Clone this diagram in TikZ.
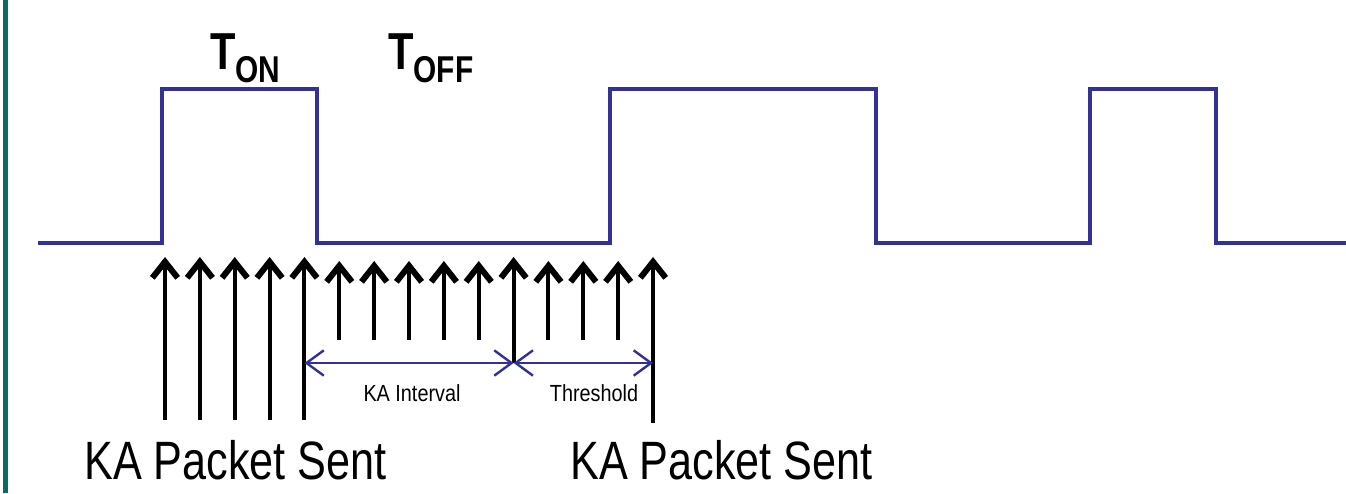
\documentclass[tikz,border=0pt]{standalone}
\usepackage{fontspec}
\usetikzlibrary{arrows.meta}
\newfontfamily\narrowsans[FakeStretch=0.85]{Liberation Sans}
\newfontfamily\tightsans[FakeStretch=0.8]{Liberation Sans}
\definecolor{waveblue}{RGB}{50,50,150}
\definecolor{sideteal}{RGB}{10,105,105}
\tikzset{
  kaarrow/.style={line width=3pt, -{Straight Barb[length=12pt,width=19pt,line width=4.5pt]}},
  dimline/.style={waveblue, line width=1.4pt, {Straight Barb[length=13pt,width=19pt,line width=1.8pt]}-{Straight Barb[length=13pt,width=19pt,line width=1.8pt]}},
  wave/.style={waveblue, line width=3pt},
  bigtext/.style={font=\tightsans\fontsize{40.5}{41}\selectfont, inner sep=0pt, anchor=base west},
  smalltext/.style={font=\narrowsans\fontsize{17.5}{18}\selectfont, inner sep=0pt, anchor=base},
  ttext/.style={font=\tightsans\bfseries\fontsize{39}{40}\selectfont, inner sep=0pt, anchor=base west}
}
\begin{document}
\begin{tikzpicture}[x=0.75pt, y=-0.75pt]
\useasboundingbox (0,0) rectangle (1346,493);
\fill[sideteal] (2.5,0) rectangle (7.5,493);
% on/off signal
\draw[wave] (38,243) -- (162,243) -- (162,89) -- (317,89) -- (317,243) -- (610,243) -- (610,89)
  -- (876,89) -- (876,243) -- (1090,243) -- (1090,89) -- (1216,89) -- (1216,243) -- (1346,243);
\node[ttext] (ton) at (210,69) {T\raisebox{-9.75pt}{\fontsize{28}{28}\selectfont ON}};
\node[ttext] (toff) at (388,69) {T\raisebox{-9.75pt}{\fontsize{28}{28}\selectfont OFF}};
% keep-alive packets
\foreach \i/\b/\t in {0/420/257, 1/420/257, 2/420/257, 3/420/257, 4/420/257,
  5/340/261, 6/340/261, 7/340/261, 8/340/261, 9/340/261, 10/363/257,
  11/340/261, 12/340/261, 13/340/261, 14/423/257}{
  \coordinate (b\i) at ({165+34.86*\i},\b);
  \coordinate (t\i) at ({165+34.86*\i},\t);
  \draw[kaarrow] (b\i) -- (t\i);
}
\coordinate (d4) at ({165+34.86*4},363);
\coordinate (d10) at ({165+34.86*10},363);
\coordinate (d14) at ({165+34.86*14},363);
\draw[dimline] (d4) -- (d10);
\draw[dimline] (d10) -- (d14);
\node[smalltext] (interval) at (412,401) {KA Interval};
\node[smalltext] (threshold) at (594,401) {Threshold};
\node[bigtext] (sentleft) at (84,479) {KA Packet Sent};
\node[bigtext] (sentright) at (570,479) {KA Packet Sent};
\end{tikzpicture}
\end{document}
